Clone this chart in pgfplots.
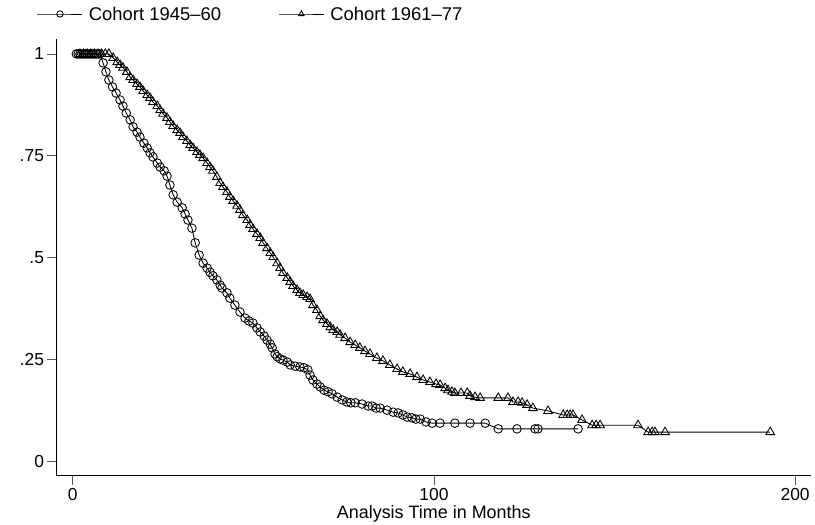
\documentclass[border=0pt]{standalone}
\usepackage{fontspec}
\setmainfont{Liberation Sans}
\usepackage{pgfplots}
\usepackage{pgfplotstable}
\pgfplotsset{compat=1.18}

% Survivor function estimates, cohort born 1945-60
\pgfplotstableread{
t s
1.0 1.000
1.5 1.000
2.0 1.000
2.5 1.000
3.0 1.000
3.5 1.000
4.0 1.000
4.5 1.000
5.0 1.000
5.5 1.000
6.0 1.000
6.5 1.000
7.0 1.000
7.5 1.000
8.4 0.978
9.2 0.956
10.0 0.936
11.0 0.919
12.0 0.904
13.1 0.887
13.9 0.872
14.8 0.855
15.9 0.838
16.7 0.821
17.8 0.808
18.6 0.796
19.7 0.781
20.6 0.769
21.4 0.757
22.2 0.747
23.4 0.732
24.2 0.722
25.3 0.713
26.1 0.700
26.9 0.678
27.8 0.654
28.9 0.636
30.3 0.622
31.1 0.607
31.9 0.592
33.0 0.572
33.9 0.536
35.0 0.506
36.1 0.486
37.2 0.474
38.0 0.464
38.8 0.455
39.9 0.445
40.8 0.432
41.3 0.425
42.7 0.413
43.5 0.400
44.9 0.383
46.3 0.366
47.7 0.351
48.8 0.344
49.9 0.339
51.0 0.327
51.9 0.317
53.0 0.307
53.8 0.297
54.7 0.287
55.2 0.278
56.0 0.263
56.6 0.256
57.4 0.251
58.2 0.248
59.4 0.243
60.2 0.236
61.6 0.233
62.9 0.231
64.0 0.229
65.1 0.224
65.7 0.211
66.5 0.199
67.6 0.189
68.5 0.182
69.6 0.174
70.7 0.170
71.8 0.165
73.2 0.157
74.6 0.150
75.9 0.145
77.0 0.143
78.2 0.143
80.1 0.140
81.8 0.135
82.9 0.135
84.0 0.130
85.1 0.130
87.0 0.125
88.7 0.120
90.1 0.118
91.4 0.113
92.6 0.108
93.9 0.106
95.0 0.103
96.2 0.103
97.8 0.096
99.5 0.093
101.7 0.093
105.8 0.093
110.0 0.093
114.2 0.093
117.8 0.079
123.0 0.079
128.0 0.079
128.8 0.079
139.9 0.079
}\cohortA

% Survivor function estimates, cohort born 1961-77
\pgfplotstableread{
t s
2.0 1.000
3.0 1.000
4.0 1.000
5.0 1.000
6.0 1.000
7.0 1.000
8.0 1.000
9.0 1.000
10.0 1.000
11.2 0.990
12.3 0.980
13.1 0.973
13.9 0.966
15.0 0.956
15.9 0.943
16.7 0.936
17.8 0.926
18.6 0.919
19.5 0.909
20.6 0.899
21.4 0.892
22.2 0.882
23.4 0.872
24.2 0.862
25.0 0.853
26.1 0.843
26.9 0.833
27.8 0.823
28.9 0.813
29.7 0.806
30.5 0.796
31.6 0.786
32.5 0.776
33.3 0.769
34.4 0.759
35.2 0.752
36.1 0.744
37.2 0.732
38.0 0.722
38.8 0.713
39.9 0.698
40.8 0.683
41.6 0.673
42.7 0.661
43.5 0.649
44.4 0.639
45.5 0.627
46.3 0.617
47.1 0.604
48.3 0.592
49.1 0.580
49.9 0.570
51.0 0.558
51.9 0.548
52.7 0.536
53.8 0.523
54.7 0.511
55.5 0.501
56.6 0.486
57.4 0.474
58.2 0.462
59.4 0.450
60.2 0.440
61.0 0.430
62.1 0.420
62.9 0.413
63.8 0.408
64.9 0.403
65.7 0.398
66.5 0.383
67.6 0.371
68.5 0.356
69.3 0.346
70.4 0.337
71.3 0.329
72.1 0.322
73.2 0.317
74.0 0.310
75.4 0.302
76.8 0.292
78.2 0.285
79.5 0.278
80.9 0.270
82.3 0.263
84.2 0.253
85.9 0.246
87.8 0.236
89.8 0.226
91.4 0.219
93.4 0.214
95.3 0.206
97.0 0.199
98.9 0.194
100.6 0.189
101.7 0.187
103.1 0.179
103.9 0.174
105.0 0.170
105.8 0.167
107.5 0.167
109.2 0.167
110.0 0.160
111.4 0.157
112.8 0.155
117.8 0.155
120.5 0.155
121.9 0.145
123.3 0.145
124.4 0.143
125.8 0.138
127.4 0.130
131.6 0.123
135.8 0.113
136.9 0.113
137.7 0.113
138.5 0.113
141.0 0.101
143.8 0.088
144.9 0.088
146.0 0.088
156.5 0.088
159.3 0.071
160.4 0.071
161.2 0.071
164.0 0.071
193.1 0.071
}\cohortB

\begin{document}
\begin{tikzpicture}
% fixed page frame
\path (-56.5bp,-49.5bp) rectangle (758.5bp,475.5bp);
\begin{axis}[
  scale only axis,
  width=754.5bp, height=436.2bp,
  xmin=-4.5, xmax=204.4,
  ymin=-0.0356, ymax=1.036,
  axis x line*=bottom, axis y line*=left,
  axis line style={-, line width=1.1bp, black},
  xtick={0,100,200},
  ytick={0,0.25,0.5,0.75,1},
  yticklabels={0,.25,.5,.75,1},
  tick align=outside,
  major tick length=9bp,
  tick style={line width=0.8bp, black!65},
  /pgf/number format/assume math mode=true,
  ticklabel style={font=\fontsize{17.5}{20}\selectfont},
  xlabel={Analysis Time in Months},
  xlabel style={font=\fontsize{18}{21}\selectfont, inner sep=0pt, yshift=-2bp},
  legend columns=2,
  legend style={draw=none, fill=none, at={(0,1)}, anchor=west,
    xshift=-19.5bp, yshift=25.3bp, inner sep=0pt, outer sep=0pt,
    font=\fontsize{18.5}{21}\selectfont,
    nodes={inner sep=0pt, text depth=0pt},
    /tikz/every odd column/.append style={column sep=6bp},
    /tikz/every even column/.append style={column sep=57.4bp}},
  legend image code/.code={
    \draw[mark repeat=2, mark phase=2, #1, mark size=3.2bp]
      plot coordinates {(0bp,0bp) (22.5bp,0bp) (45bp,0bp)};},
]
\addplot[black, line width=0.85bp, mark=o, mark size=4.3bp]
  table[x=t, y=s] {\cohortA};
\addlegendentry{Cohort 1945–60}
\addplot[black, line width=0.85bp, mark=triangle, mark size=5.0bp]
  table[x=t, y=s] {\cohortB};
\addlegendentry{Cohort 1961–77}
\end{axis}
\end{tikzpicture}
\end{document}
